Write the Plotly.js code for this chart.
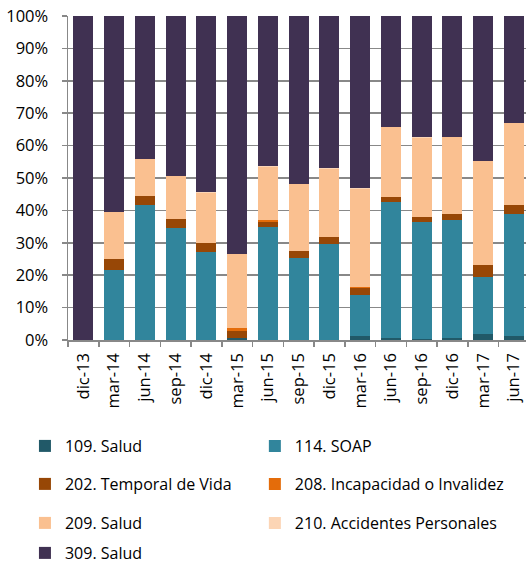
<!DOCTYPE html>
<html>
<head>
<meta charset="utf-8">
<script src="https://cdn.plot.ly/plotly-3.0.1.min.js"></script>
<style>html,body{margin:0;padding:0;background:#fff;}#chart{width:526px;height:570px;}</style>
</head>
<body>
<div id="chart"></div>
<script>
const categories = ['dic-13','mar-14','jun-14','sep-14','dic-14','mar-15','jun-15','sep-15','dic-15','mar-16','jun-16','sep-16','dic-16','mar-17','jun-17'];
const s109 = [0,0,0,0,0,0.5,0,0,0,1.2,0.7,0.2,0.6,1.7,1.1];
const s114 = [0,21.5,41.8,34.6,27.1,0,34.8,25.4,29.6,12.8,41.8,36.1,36.4,17.7,37.8];
const s202 = [0,3.6,2.7,2.9,2.9,2.4,1.6,2.2,2.2,2.0,1.5,1.7,1.8,3.8,2.9];
const s208 = [0,0,0,0,0,0.7,0.6,0,0,0.5,0,0,0,0,0];
const s209 = [0,14.4,11.4,13.0,15.4,22.9,16.3,20.5,21.0,30.1,21.6,24.4,23.8,32.0,25.1];
const s210 = [0,0,0,0.2,0.2,0,0.2,0.2,0.2,0.2,0.2,0.2,0.2,0.2,0.2];
const s309 = [100,60.5,44.1,49.3,54.4,73.5,46.4,51.7,47.0,53.2,34.2,37.4,37.2,44.6,32.9];
const seriesNames = ['109. Salud','114. SOAP','202. Temporal de Vida','208. Incapacidad o Invalidez','209. Salud','210. Accidentes Personales','309. Salud'];

const seriesData = [s109,s114,s202,s208,s209,s210,s309];
const colors = ['#215968','#31859C','#974706','#E46C0A','#FAC090','#FCD5B5','#403152'];
const legendIds = ['legend','legend2','legend3','legend4','legend5','legend6','legend7'];

const traces = seriesData.map((vals,i)=>({
  type:'bar', x:categories, y:vals, name:seriesNames[i],
  marker:{color:colors[i], line:{width:0}},
  width:0.65, legend:legendIds[i], hoverinfo:'skip'
}));

const font = {family:'"Open Sans", "DejaVu Sans", sans-serif', size:16, color:'#000'};
const axFont = {family:'"Open Sans", "DejaVu Sans", sans-serif', size:16.5, color:'#000'};
const colX = [-0.094, 0.408];
const rowY = [-0.3231, -0.44, -0.56, -0.655];
const layout = {
  width:526, height:570,
  margin:{l:68, r:0, t:16, b:229},
  barmode:'stack', barnorm:'percent',
  paper_bgcolor:'#fff', plot_bgcolor:'#fff',
  font:font,
  showlegend:true,
  xaxis:{type:'category', range:[-0.5,14.39], tickangle:-90, ticks:'outside', ticklen:5,
    tickson:'boundaries', tickcolor:'#888', tickwidth:1.5, showline:true, linecolor:'#888', linewidth:1.5,
    showgrid:false, tickfont:axFont, ticklabelstandoff:5, automargin:false, fixedrange:true},
  yaxis:{range:[0,100], dtick:10, ticksuffix:'%', ticks:'outside', ticklen:5, tickcolor:'#888', tickwidth:1.5,
    showline:true, linecolor:'#888', linewidth:1.5, showgrid:true, gridcolor:'#888', gridwidth:1.5,
    zeroline:false, tickfont:axFont, ticklabelstandoff:10, automargin:false, fixedrange:true}
};
const pos = [[0,0],[1,0],[0,1],[1,1],[0,2],[1,2],[0,3]];
legendIds.forEach((id,i)=>{
  layout[id] = {x:colX[pos[i][0]], y:rowY[pos[i][1]],
    xanchor:'left', yanchor:'middle', bgcolor:'rgba(0,0,0,0)', font:font, borderwidth:0};
});
Plotly.newPlot('chart', traces, layout, {staticPlot:true});
</script>
</body>
</html>
